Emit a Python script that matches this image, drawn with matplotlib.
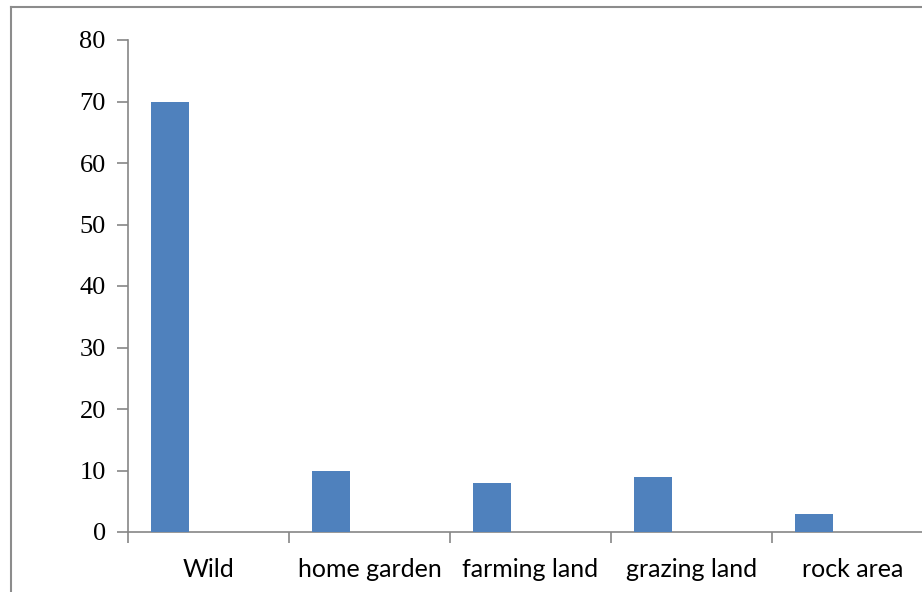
import matplotlib.pyplot as plt
from matplotlib.lines import Line2D
import numpy as np

categories = ["Wild", "home garden", "farming land", "grazing land", "rock area"]
values = [70, 10, 8, 9, 3]
yticks = [0, 10, 20, 30, 40, 50, 60, 70, 80]

bar_color = "#4F81BD"
axis_color = "#868686"

fig = plt.figure(figsize=(9.22, 5.92), dpi=100)
ax = fig.add_axes([128 / 922, 60 / 592, 805 / 922, 492 / 592])

x = np.arange(len(categories))
# bars sit in the left half of each category slot
ax.bar(x - 0.239, values, width=0.236, color=bar_color, zorder=3)

ax.set_xlim(-0.5, len(categories) - 0.5)
ax.set_ylim(0, 80)
ax.set_yticks(yticks)
ax.set_yticklabels([str(v) for v in yticks], fontfamily="Liberation Serif", fontsize=19)

# category ticks on slot boundaries, labels centred in slots
ax.set_xticks(np.arange(len(categories) + 1) - 0.5)
ax.set_xticklabels([])
ax.set_xticks(x, minor=True)
ax.set_xticklabels(categories, minor=True, fontfamily="Lato", fontsize=18)
ax.tick_params(axis="x", which="minor", length=0, pad=19)
ax.tick_params(axis="x", which="major", length=8, width=1.2, color=axis_color, direction="out")
ax.tick_params(axis="y", length=8, width=1.2, color=axis_color, direction="out", pad=8)

for side in ["top", "right"]:
    ax.spines[side].set_visible(False)
for side in ["left", "bottom"]:
    ax.spines[side].set_color(axis_color)
    ax.spines[side].set_linewidth(1.2)

# outer frame of the chart area
fig.add_artist(Line2D([10.5 / 922, 10.5 / 922], [0, 1 - 6.5 / 592], transform=fig.transFigure,
                      color="#8c8c8c", linewidth=1.5))
fig.add_artist(Line2D([10.5 / 922, 1], [1 - 6.5 / 592, 1 - 6.5 / 592], transform=fig.transFigure,
                      color="#8c8c8c", linewidth=1.5))

fig.savefig("out.png", dpi=100)
